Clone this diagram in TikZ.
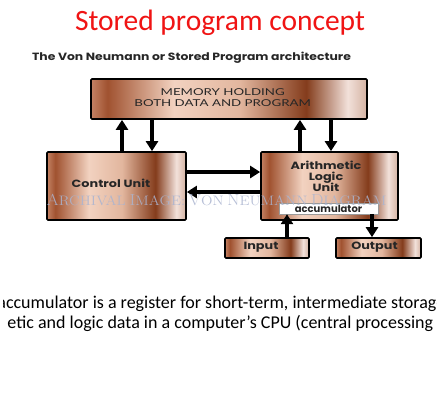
\documentclass[tikz,border=0pt]{standalone}
\usepackage{fontspec}
\setmainfont{Carlito}
\newfontfamily\pop{Poppins}
\newfontfamily\popw{Poppins}[FakeStretch=1.22]
\newfontfamily\popsub{Poppins}[FakeStretch=1.18]
\newfontfamily\latow{Lato}[FakeStretch=1.4]
\newfontfamily\lmrw{Latin Modern Roman}[FakeStretch=1.1]
\usetikzlibrary{arrows.meta}
\definecolor{cu1}{RGB}{195,130,100}
\definecolor{cu2}{RGB}{160,82,48}
\definecolor{cu3}{RGB}{242,210,192}
\definecolor{cu3b}{RGB}{226,182,158}
\definecolor{cu4}{RGB}{132,60,28}
\definecolor{cu5}{RGB}{242,225,218}
\definecolor{cu6}{RGB}{212,178,162}
\definecolor{titlered}{RGB}{240,20,20}
\definecolor{wmark}{RGB}{170,180,208}
\newcommand\wmsc[2]{{\fontsize{16}{18}\selectfont #1}{\fontsize{13.7}{18}\selectfont #2}}
\pgfdeclarehorizontalshading{copper}{100bp}{color(0bp)=(cu1); color(25bp)=(cu1); color(28bp)=(cu2); color(40bp)=(cu3); color(52bp)=(cu3b); color(64bp)=(cu4); color(71.5bp)=(cu5); color(75bp)=(cu6); color(100bp)=(cu6)}
\tikzset{
  box/.style={draw=black, line width=1.7pt, rounded corners=1pt, shading=copper, inner sep=0pt, align=center, text=black!85},
  lbl/.style={font=\popw\bfseries\fontsize{10.5}{11.3}\selectfont, text=black!85, align=center, inner sep=0pt},
  arr/.style={line width=4.5pt, -{Triangle[width=12pt,length=10pt]}},
  para/.style={anchor=base west, inner sep=0, font=\fontsize{18}{20}\selectfont, text=black},
}
\begin{document}
\begin{tikzpicture}[x=1pt,y=-1pt]
\useasboundingbox (0,0) rectangle (437,400);
\clip (0,0) rectangle (437,400);
\fill[white] (0,0) rectangle (437,400);
% titles
\node[anchor=base, inner sep=0, text=titlered, font=\fontsize{29.5}{32}\selectfont] (title) at (220,30) {Stored program concept};
\node[anchor=base, inner sep=0, font=\popsub\bfseries\fontsize{10.5}{12}\selectfont, text=black!85] (sub) at (191.5,60) {The Von Neumann or Stored Program architecture};
% boxes
\node[box, minimum width=276pt, minimum height=40pt] (mem) at (229,99) {};
\node[font=\latow\fontsize{9.5}{10.7}\selectfont, text=black!85, align=center, inner sep=0pt] (memt) at (222.7,97.5) {MEMORY HOLDING\\BOTH DATA AND PROGRAM};
\node[box, minimum width=139pt, minimum height=68pt] (cu) at (116.5,186) {};
\node[lbl] (cut) at (111,183) {Control Unit};
\node[box, minimum width=137pt, minimum height=68pt] (alu) at (329.5,186) {};
\node[lbl] (alut) at (326,176.5) {Arithmetic\\Logic\\Unit};
\node[draw=black!40, line width=0.4pt, fill=white, minimum width=99pt, minimum height=11pt, inner sep=0pt, font=\pop\bfseries\fontsize{10}{10}\selectfont, text=black!85] (acc) at (328.5,208.5) {accumulator};
\node[box, minimum width=84pt, minimum height=20pt] (in) at (267,248) {};
\node[lbl] (int) at (261,247) {Input};
\node[box, minimum width=85pt, minimum height=20pt] (out) at (378.5,248) {};
\node[lbl] (outt) at (374.5,247) {Output};
% connectors
\draw[arr] ([xshift=5.5pt]cu.north) -- ([xshift=5.5pt]cu.north |- mem.south);
\draw[arr] ([xshift=-77pt]mem.south) -- ([xshift=-77pt]mem.south |- cu.north);
\draw[arr] ([xshift=-29.5pt]alu.north) -- ([xshift=-29.5pt]alu.north |- mem.south);
\draw[arr] ([xshift=102pt]mem.south) -- ([xshift=102pt]mem.south |- alu.north);
\draw[arr] ([yshift=14pt]cu.east) -- ([yshift=14pt]cu.east -| alu.west);
\draw[arr] ([yshift=-6pt]alu.west) -- ([yshift=-6pt]alu.west -| cu.east);
\draw[arr] ([xshift=20pt]in.north) -- ([xshift=20pt]in.north |- acc.south);
\draw[arr] ([xshift=43.5pt]acc.south) -- ([xshift=43.5pt]acc.south |- out.north);
% watermark
\node[anchor=base, inner sep=0, text=wmark, opacity=0.85, font=\lmrw] (wm) at (216.5,205) {\wmsc{A}{RCHIVAL} \wmsc{I}{MAGE:} \wmsc{V}{ON} \wmsc{N}{EUMANN} \wmsc{D}{IAGRAM}};
% bottom text (cut at the picture's edges)
\begin{scope}
\clip (3.2,290) rectangle (437,340);
\node[para] (l1) at (5.8,308.5) {\llap{a}ccumulator is a register for short-term, intermediate storage of};
\end{scope}
\node[para] (l2) at (7.3,328) {etic and logic data in a computer's CPU (central processing unit).};
\end{tikzpicture}
\end{document}
